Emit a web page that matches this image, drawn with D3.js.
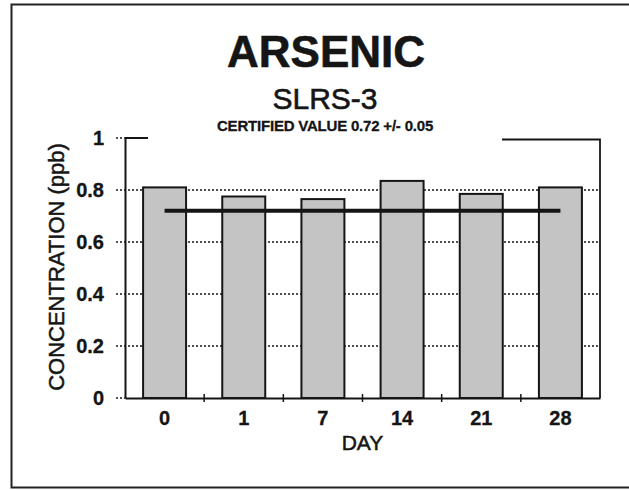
<!DOCTYPE html>
<html>
<head>
<meta charset="utf-8">
<script src="https://cdn.jsdelivr.net/npm/d3@7"></script>
<style>
  html, body { margin: 0; padding: 0; background: #fff; }
  svg { display: block; font-family: "Liberation Sans", Arial, sans-serif; }
</style>
</head>
<body>
<svg id="chart" width="629" height="490"></svg>
<script>
// Arsenic measured in SLRS-3 reference water over the holding period
const days = ["0", "1", "7", "14", "21", "28"];
const concentration = [0.81, 0.775, 0.765, 0.835, 0.785, 0.81];
const certifiedValue = 0.72;
const yTicks = [0, 0.2, 0.4, 0.6, 0.8, 1];
const yTickLabels = ["0", "0.2", "0.4", "0.6", "0.8", "1"];

const svg = d3.select("#chart");
const ink = "#151515";

const plot = { left: 125, right: 600, top: 138, bottom: 398 };

const x = d3.scaleBand()
  .domain(days)
  .range([plot.left, plot.right])
  .paddingInner(0.457)
  .paddingOuter(0.457 / 2);

const y = d3.scaleLinear().domain([0, 1]).range([plot.bottom, plot.top]);

// outer frame
svg.append("path")
  .attr("d", "M640,4.5 H11.5 V487.5 H640")
  .attr("fill", "none").attr("stroke", "#222").attr("stroke-width", 2);

// dotted gridlines (extending left of the axis as ticks)
svg.append("g").selectAll("line")
  .data(yTicks.filter(d => d > 0 && d < 1))
  .join("line")
  .attr("x1", plot.left - 9).attr("x2", plot.right)
  .attr("y1", d => y(d)).attr("y2", d => y(d))
  .attr("stroke", ink).attr("stroke-width", 1.6)
  .attr("stroke-dasharray", "2,2");

// small dotted ticks at 0 and 1
svg.append("g").selectAll("line")
  .data([0, 1])
  .join("line")
  .attr("x1", plot.left - 9).attr("x2", plot.left)
  .attr("y1", d => y(d)).attr("y2", d => y(d))
  .attr("stroke", ink).attr("stroke-width", 1.6)
  .attr("stroke-dasharray", "2,2");

// plot frame: top (broken under title block) and right side
svg.append("path")
  .attr("d", `M${plot.left},${y(1)} H148 M502,${y(1) + 1.5} H${plot.right} V${plot.bottom}`)
  .attr("fill", "none").attr("stroke", ink).attr("stroke-width", 1.8);

// bars
svg.append("g").selectAll("rect")
  .data(days)
  .join("rect")
  .attr("x", d => x(d))
  .attr("width", x.bandwidth())
  .attr("y", (d, i) => y(concentration[i]))
  .attr("height", (d, i) => y(0) - y(concentration[i]))
  .attr("fill", "#c4c4c4")
  .attr("stroke", ink).attr("stroke-width", 2);

// certified value line
svg.append("line")
  .attr("x1", x(days[0]) + x.bandwidth() / 2)
  .attr("x2", x(days[days.length - 1]) + x.bandwidth() / 2)
  .attr("y1", y(certifiedValue)).attr("y2", y(certifiedValue))
  .attr("stroke", ink).attr("stroke-width", 4);

// y axis
const yAxis = d3.axisLeft(y).tickValues(yTicks)
  .tickFormat((d, i) => yTickLabels[i]).tickSize(0).tickPadding(21);
const gy = svg.append("g").attr("transform", `translate(${plot.left},0)`).call(yAxis);
gy.select(".domain").attr("stroke", ink).attr("stroke-width", 2);
gy.selectAll("text")
  .attr("font-family", "Liberation Sans, Arial, sans-serif")
  .attr("font-size", 20).attr("font-weight", "bold").attr("fill", ink)
  .attr("stroke", ink).attr("stroke-width", 0.3);

// x axis with ticks between categories
const xAxis = d3.axisBottom(x).tickSize(0).tickPadding(13);
const gx = svg.append("g").attr("transform", `translate(0,${plot.bottom})`).call(xAxis);
gx.select(".domain").attr("stroke", ink).attr("stroke-width", 2);
gx.selectAll("text")
  .attr("font-family", "Liberation Sans, Arial, sans-serif")
  .attr("font-size", 20).attr("font-weight", "bold").attr("fill", ink)
  .attr("stroke", ink).attr("stroke-width", 0.3);
gx.selectAll(".sep")
  .data(days.slice(1))
  .join("line")
  .attr("class", "sep")
  .attr("x1", d => x(d) - x.step() * x.paddingInner() / 2)
  .attr("x2", d => x(d) - x.step() * x.paddingInner() / 2)
  .attr("y1", -4).attr("y2", 4)
  .attr("stroke", ink).attr("stroke-width", 1.5);

// axis titles
svg.append("text")
  .attr("x", (plot.left + plot.right) / 2).attr("y", 450)
  .attr("text-anchor", "middle")
  .attr("font-size", 21).attr("fill", ink)
  .attr("stroke", ink).attr("stroke-width", 0.5)
  .text("DAY");

svg.append("text")
  .attr("transform", `translate(64,${(plot.top + plot.bottom) / 2 - 1}) rotate(-90)`)
  .attr("text-anchor", "middle")
  .attr("font-size", 22).attr("fill", ink)
  .attr("stroke", ink).attr("stroke-width", 0.5)
  .text("CONCENTRATION (ppb)");

// titles
svg.append("text")
  .attr("x", 326).attr("y", 67)
  .attr("text-anchor", "middle")
  .attr("font-size", 44).attr("font-weight", "bold").attr("fill", ink)
  .attr("stroke", ink).attr("stroke-width", 0.6)
  .text("ARSENIC");

svg.append("text")
  .attr("x", 325).attr("y", 109)
  .attr("text-anchor", "middle")
  .attr("font-size", 30).attr("fill", ink)
  .attr("stroke", ink).attr("stroke-width", 0.6)
  .text("SLRS-3");

svg.append("text")
  .attr("x", 325).attr("y", 131)
  .attr("text-anchor", "middle")
  .attr("font-size", 15).attr("font-weight", "bold").attr("fill", ink)
  .attr("letter-spacing", "-0.2")
  .attr("stroke", ink).attr("stroke-width", 0.3)
  .text("CERTIFIED VALUE 0.72 +/- 0.05");
</script>
</body>
</html>
